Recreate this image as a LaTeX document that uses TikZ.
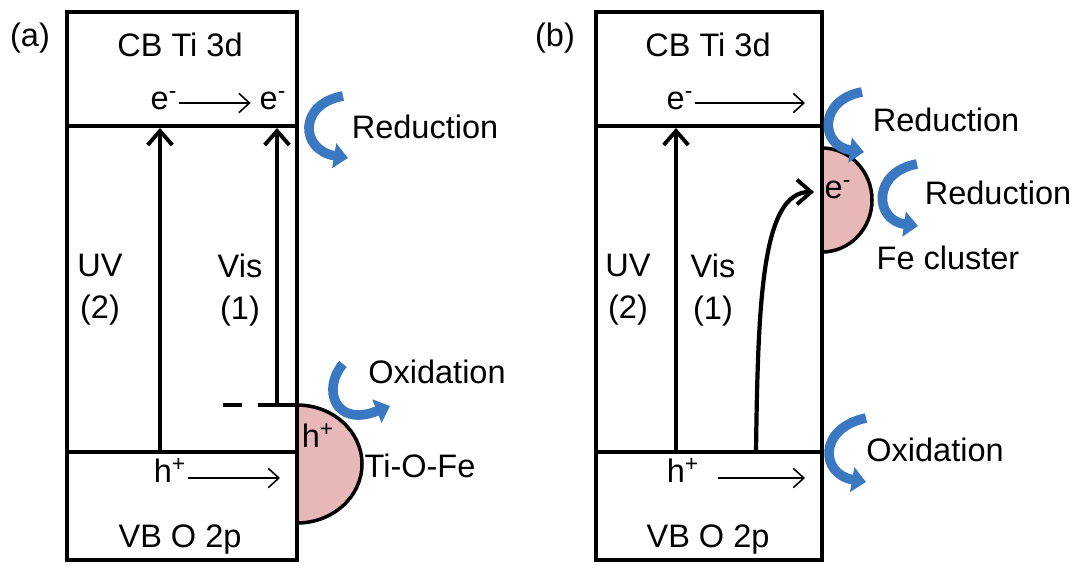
\documentclass[tikz,border=0pt]{standalone}
\usepackage{fontspec}
\setmainfont{Liberation Sans}
\usetikzlibrary{positioning,arrows.meta}
\definecolor{redoxblue}{HTML}{3A78C2}
\definecolor{clusterpink}{HTML}{E8B7B7}
\tikzset{
  band/.style={line width=2pt},
  excite/.style={line width=2.4pt,-{Straight Barb[length=8pt,width=14pt,line width=2.2pt]}},
  drift/.style={line width=0.9pt,-{Straight Barb[length=6pt,width=11pt]}},
  redox/.style={redoxblue,line width=5.5pt,-{Triangle[length=8pt,width=14pt]}},
  lbl/.style={font=\fontsize{18.5}{24}\selectfont,inner sep=1pt,align=center},
}

\begin{document}
\begin{tikzpicture}[x=0.02cm,y=-0.02cm]
    \useasboundingbox (0,0) rectangle (1082,568);

    % (a) Ti-O-Fe
    \draw[band,fill=clusterpink] (297,405) arc[start angle=-90,end angle=90,x radius=65,y radius=59];
    \draw[band] (67,12) rectangle (297,560);
    \draw[band] (67,126) -- (297,126);
    \draw[band] (67,452) -- (297,452);
    \node[lbl] (taga) at (30,38) {(a)};
    \node[lbl] (cba) at (180,45) {CB Ti 3d};
    \node[lbl] (vba) at (180,540) {VB O 2p};
    \node[lbl] (ea1) at (164,101) {e\textsuperscript{-}};
    \node[lbl] (ea2) at (273,101) {e\textsuperscript{-}};
    \node[lbl] (ha) at (170,470) {h\textsuperscript{+}};
    \node[lbl] (hsite) at (318,435) {h\textsuperscript{+}};
    \node[lbl] (uva) at (100,290) {UV\\(2)};
    \node[lbl] (visa) at (240,290) {Vis\\(1)};
    \node[lbl] (reda) at (425,127) {Reduction};
    \node[lbl] (oxa) at (437,372) {Oxidation};
    \node[lbl] (tiofe) at (420,466) {Ti-O-Fe};
    \coordinate (uvabot) at (160,452);
    \coordinate (uvatop) at (160,128);
    \coordinate (visabot) at (297,405);
    \coordinate (visatop) at (277,128);
    \coordinate (dasha) at (223,405);
    \coordinate (habend) at (280,478);
    \draw[excite] (uvabot) -- (uvatop);
    \draw[excite] (visabot) -| (visatop);
    \draw[band,dash pattern=on 11pt off 9pt] (dasha) -- (visatop |- dasha);
    \draw[drift] (ea1.east |- 0,103) -- ([xshift=-4pt]ea2.west |- 0,103);
    \draw[drift] (ha.east |- habend) -- (habend);
    \draw[redox] (343,96) .. controls (298,104) and (300,150) .. (348,158);
    \draw[redox] (343,364) .. controls (322,388) and (334,428) .. (390,406);

    % (b) Fe cluster
    \draw[band,fill=clusterpink] (822,148) arc[start angle=-90,end angle=90,x radius=50,y radius=52];
    \draw[band] (596,12) rectangle (822,560);
    \draw[band] (596,126) -- (822,126);
    \draw[band] (596,452) -- (822,452);
    \node[lbl] (tagb) at (555,38) {(b)};
    \node[lbl] (cbb) at (708,45) {CB Ti 3d};
    \node[lbl] (vbb) at (708,540) {VB O 2p};
    \node[lbl] (eb) at (680,101) {e\textsuperscript{-}};
    \node[lbl] (hb) at (683,470) {h\textsuperscript{+}};
    \node[lbl] (ecl) at (838,190) {e\textsuperscript{-}};
    \node[lbl] (uvb) at (628,290) {UV\\(2)};
    \node[lbl] (visb) at (713,290) {Vis\\(1)};
    \node[lbl] (redb1) at (946,120) {Reduction};
    \node[lbl] (redb2) at (998,193) {Reduction};
    \node[lbl] (fecl) at (948,258) {Fe cluster};
    \node[lbl] (oxb) at (935,450) {Oxidation};
    \coordinate (uvbbot) at (676,452);
    \coordinate (uvbtop) at (676,128);
    \coordinate (visbbot) at (756,452);
    \coordinate (visbtop) at (814,192);
    \coordinate (ebend) at (805,103);
    \coordinate (hbstart) at (718,478);
    \coordinate (hbend) at (805,478);
    \draw[excite] (uvbbot) -- (uvbtop);
    \draw[excite] (visbbot) .. controls (758,300) and (762,192) .. (visbtop);
    \draw[drift] (eb.east |- ebend) -- (ebend);
    \draw[drift] (hbstart) -- (hbend);
    \draw[redox] (862,92) .. controls (818,100) and (820,146) .. (864,152);
    \draw[redox] (917,164) .. controls (872,172) and (874,220) .. (918,226);
    \draw[redox] (866,418) .. controls (818,428) and (820,474) .. (866,482);
\end{tikzpicture}
\end{document}
